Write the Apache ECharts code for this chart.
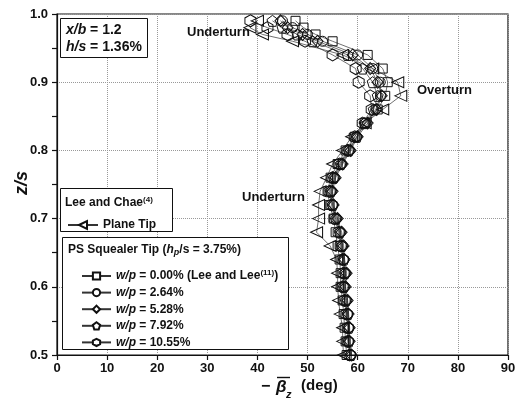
<!DOCTYPE html>
<html>
<head>
<meta charset="utf-8">
<script src="https://cdn.jsdelivr.net/npm/echarts@6/dist/echarts.min.js"></script>
<style>
  html, body { margin: 0; padding: 0; background: #fff; }
</style>
</head>
<body>
<div id="chart" style="width: 523px;height: 410px;"></div>
<script>
// z/s stations (shared by every series)
const zVals = [0.50, 0.52, 0.54, 0.56, 0.58, 0.60, 0.62, 0.64, 0.66, 0.68, 0.70, 0.72, 0.74, 0.76,
  0.78, 0.80, 0.82, 0.84, 0.86, 0.88, 0.90, 0.92, 0.94, 0.96, 0.97, 0.98, 0.99];

// -beta_z (deg)
const planeTip = [57.2, 57, 57, 56.5, 56.2, 56, 56, 55.8, 54.5, 51.8, 52.2, 52.2, 52.5, 53.8,
  55, 57, 58.8, 61.5, 65, 68.6, 68, 63, 57, 47, 41, 38.5, 40];
const wp000 = [57.8, 57.6, 57.4, 57.2, 57, 56.6, 56.6, 56.4, 56, 55.6, 55.2, 54.4, 54, 54.6,
  56, 57.6, 59.4, 61.4, 64, 65.5, 66, 65, 62, 55, 51.6, 49.2, 47.6];
const wp264 = [58.6, 58.2, 58.2, 58, 57.8, 57.4, 57.6, 57.2, 57, 56.6, 55.8, 55, 54.8, 55.4,
  56.8, 58.4, 59.8, 61.6, 63.6, 64.6, 64.5, 63, 60, 53, 50, 47, 45];
const wp528 = [58.8, 58.4, 58.4, 58.2, 58, 57.6, 57.8, 57.4, 57.2, 56.8, 56, 55.2, 55, 55.6,
  57, 58.6, 60, 62, 63.8, 64.8, 64, 62.5, 59, 52, 49, 46, 44.6];
const wp792 = [58.6, 58.2, 58.2, 58, 57.6, 57.2, 57.4, 57.2, 56.8, 56.4, 55.6, 55, 54.6, 55.2,
  56.6, 58.2, 59.8, 61.4, 63.2, 64, 63, 61, 58, 51, 48, 45, 43];
const wp1055 = [58.4, 58, 58, 57.8, 57.4, 57, 57.2, 57, 56.6, 56.2, 55.4, 54.8, 54.4, 55,
  56.4, 58, 59.4, 61, 62.8, 62.5, 60.2, 59.6, 55, 49.5, 46, 42, 38.6];

const xTicks = [0, 10, 20, 30, 40, 50, 60, 70, 80, 90];
const yTicks = [0.5, 0.6, 0.7, 0.8, 0.9, 1.0];

const FONT = 'Liberation Sans, Arial, sans-serif';

const SYM = {
  tri: 'path://M0,5 L10,0 L10,10 Z',
  pent: 'path://M5,0 L10,3.8 L8.1,10 L1.9,10 L0,3.8 Z',
  hex: 'path://M5,0 L10,2.6 L10,7.4 L5,10 L0,7.4 L0,2.6 Z'
};

const legendText = {
  'Plane Tip': 'Plane Tip',
  'wp0': '{i|w/p} = 0.00% (Lee and Lee{s|(11)})',
  'wp1': '{i|w/p} = 2.64%',
  'wp2': '{i|w/p} = 5.28%',
  'wp3': '{i|w/p} = 7.92%',
  'wp4': '{i|w/p} = 10.55%'
};

function mkSeries(name, vals, symbol, size) {
  return {
    name: name,
    type: 'line',
    data: zVals.map((z, i) => [vals[i], z]),
    symbol: symbol,
    symbolSize: size,
    showAllSymbol: true,
    itemStyle: { color: 'rgba(255,255,255,0)', borderColor: '#111', borderWidth: 1 },
    lineStyle: { color: '#333', width: 0.7 },
    emphasis: { disabled: true },
    z: 3
  };
}

const legendTextStyle = {
  fontFamily: FONT, fontWeight: 'bold', fontSize: 12, color: '#111',
  rich: {
    i: { fontFamily: FONT, fontStyle: 'italic', fontWeight: 'bold', fontSize: 12, color: '#111' },
    s: { fontFamily: FONT, fontWeight: 'bold', fontSize: 8, color: '#111', verticalAlign: 'top', lineHeight: 14 }
  }
};

const option = {
  animation: false,
  backgroundColor: '#fff',
  grid: { left: 57, right: 15, top: 14, bottom: 55, show: true, borderColor: '#111', borderWidth: 1.2 },
  xAxis: {
    type: 'value', min: 0, max: 90, interval: 10,
    axisLine: { show: true, onZero: false, lineStyle: { color: '#111', width: 1.2 } },
    axisTick: { show: true, inside: false, length: 5, lineStyle: { color: '#111', width: 1.2 } },
    axisLabel: { color: '#111', fontFamily: FONT, fontWeight: 'bold', fontSize: 13, margin: 7,
      formatter: v => xTicks.includes(v) ? String(v) : '' },
    splitLine: { show: true, lineStyle: { color: '#999', type: 'dotted', width: 1 } }
  },
  yAxis: {
    type: 'value', min: 0.5, max: 1.0, interval: 0.1,
    axisLine: { show: true, onZero: false, lineStyle: { color: '#111', width: 1.2 } },
    axisTick: { show: true, inside: false, length: 5, lineStyle: { color: '#111', width: 1.2 } },
    minorTick: { show: true, splitNumber: 2, length: 5, lineStyle: { color: '#111', width: 1.2 } },
    axisLabel: { color: '#111', fontFamily: FONT, fontWeight: 'bold', fontSize: 13, margin: 9,
      formatter: v => yTicks.some(t => Math.abs(t - v) < 1e-6) ? v.toFixed(1) : '' },
    splitLine: { show: true, lineStyle: { color: '#999', type: 'dotted', width: 1 } }
  },
  legend: [
    {
      data: ['Plane Tip'], orient: 'vertical', left: 62, top: 214,
      itemWidth: 30, itemHeight: 10, itemGap: 4,
      itemStyle: { color: '#fff' },
      formatter: n => legendText[n], textStyle: legendTextStyle
    },
    {
      data: ['wp0', 'wp1', 'wp2', 'wp3', 'wp4'], orient: 'vertical', left: 76, top: 264,
      itemWidth: 29, itemHeight: 9, itemGap: 4.6,
      itemStyle: { color: '#fff' },
      formatter: n => legendText[n], textStyle: legendTextStyle
    }
  ],
  graphic: [
    // parameter box
    { type: 'rect', shape: { x: 60.5, y: 18.5, width: 87, height: 39 },
      style: { fill: '#fff', stroke: '#111', lineWidth: 1 }, z: 10 },
    { type: 'text', x: 66, y: 30, z: 11, style: { text: '{i|x/b} = 1.2', fontFamily: FONT, fontWeight: 'bold', fontSize: 14,
      fill: '#111', verticalAlign: 'middle', rich: { i: { fontFamily: FONT, fontStyle: 'italic', fontWeight: 'bold', fontSize: 14 } } } },
    { type: 'text', x: 66, y: 47, z: 11, style: { text: '{i|h/s} = 1.36%', fontFamily: FONT, fontWeight: 'bold', fontSize: 14,
      fill: '#111', verticalAlign: 'middle', rich: { i: { fontFamily: FONT, fontStyle: 'italic', fontWeight: 'bold', fontSize: 14 } } } },

    // annotations
    { type: 'text', x: 187, y: 32, z: 11, style: { text: 'Underturn', fontFamily: FONT, fontWeight: 'bold', fontSize: 13, fill: '#111', verticalAlign: 'middle' } },
    { type: 'text', x: 417, y: 90, z: 11, style: { text: 'Overturn', fontFamily: FONT, fontWeight: 'bold', fontSize: 13, fill: '#111', verticalAlign: 'middle' } },
    { type: 'text', x: 242, y: 197, z: 11, style: { text: 'Underturn', fontFamily: FONT, fontWeight: 'bold', fontSize: 13, fill: '#111', verticalAlign: 'middle' } },

    // legend boxes
    { type: 'rect', shape: { x: 60.5, y: 188.5, width: 112, height: 43 },
      style: { fill: '#fff', stroke: '#111', lineWidth: 1 }, z: 1 },
    { type: 'text', x: 65, y: 203, z: 11, style: { text: 'Lee and Chae{s|(4)}', fontFamily: FONT, fontWeight: 'bold', fontSize: 12,
      fill: '#111', verticalAlign: 'middle', rich: { s: { fontFamily: FONT, fontWeight: 'bold', fontSize: 8, verticalAlign: 'top', lineHeight: 14 } } } },
    { type: 'rect', shape: { x: 62.5, y: 237.5, width: 226, height: 112 },
      style: { fill: '#fff', stroke: '#111', lineWidth: 1 }, z: 1 },
    { type: 'text', x: 68, y: 250, z: 11, style: { text: 'PS Squealer Tip ({i|h}{b|p}/s = 3.75%)', fontFamily: FONT, fontWeight: 'bold', fontSize: 12,
      fill: '#111', verticalAlign: 'middle', rich: {
        i: { fontFamily: FONT, fontStyle: 'italic', fontWeight: 'bold', fontSize: 12 },
        b: { fontFamily: FONT, fontStyle: 'italic', fontWeight: 'bold', fontSize: 9, verticalAlign: 'bottom', lineHeight: 14 }
      } } },

    // y axis name
    { type: 'text', x: 22, y: 183, rotation: Math.PI / 2, z: 11, style: { text: 'z/s', fontFamily: FONT, fontWeight: 'bold', fontStyle: 'italic',
      fontSize: 18, fill: '#111', align: 'center', verticalAlign: 'middle' } },

    // x axis name:  -beta_z (deg)
    { type: 'text', x: 261, y: 387, z: 11, style: { text: '\u2212', fontFamily: FONT, fontWeight: 'bold', fontSize: 16, fill: '#111', verticalAlign: 'middle' } },
    { type: 'text', x: 276, y: 387, z: 11, style: { text: '\u03b2', fontFamily: FONT, fontWeight: 'bold', fontStyle: 'italic', fontSize: 17, fill: '#111', verticalAlign: 'middle' } },
    { type: 'line', shape: { x1: 277, y1: 377.5, x2: 290, y2: 377.5 }, style: { stroke: '#111', lineWidth: 1.4 }, z: 11 },
    { type: 'text', x: 286, y: 395, z: 11, style: { text: 'z', fontFamily: FONT, fontWeight: 'bold', fontStyle: 'italic', fontSize: 11, fill: '#111', verticalAlign: 'middle' } },
    { type: 'text', x: 301, y: 386, z: 11, style: { text: '(deg)', fontFamily: FONT, fontWeight: 'bold', fontSize: 15, fill: '#111', verticalAlign: 'middle' } }
  ],
  series: [
    mkSeries('Plane Tip', planeTip, SYM.tri, [12, 11]),
    mkSeries('wp0', wp000, 'rect', 9),
    mkSeries('wp1', wp264, 'circle', 10),
    mkSeries('wp2', wp528, 'diamond', [11, 12]),
    mkSeries('wp3', wp792, SYM.pent, 11),
    mkSeries('wp4', wp1055, SYM.hex, [11, 12])
  ]
};

const myChart = echarts.init(document.getElementById('chart'));
myChart.setOption(option);
</script>
</body>
</html>
